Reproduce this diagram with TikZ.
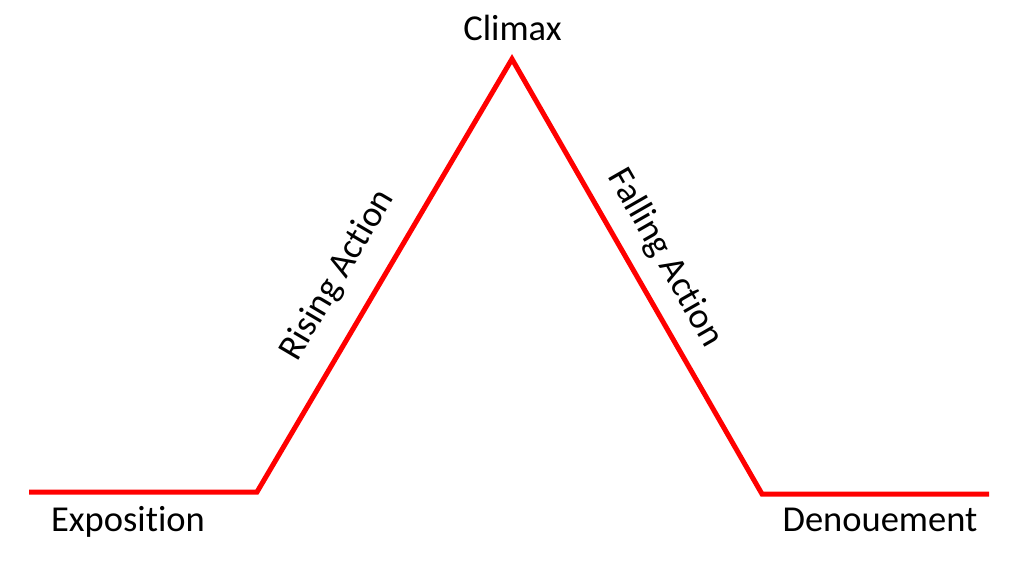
\documentclass[tikz,border=0pt]{standalone}
\usepackage{fontspec}
\setmainfont[RawFeature=-liga]{Carlito}
\begin{document}
\begin{tikzpicture}[x=0.5pt,y=-0.5pt,
    plot/.style={red,line width=2.5pt,line join=miter},
    lbl/.style={inner sep=0pt,font=\fontsize{18.25}{22}\selectfont}]
  \useasboundingbox (0,0) rectangle (1025,569);
  \coordinate (start)  at (29,492);
  \coordinate (rise)   at (257,492);
  \coordinate (peak)   at (512,59);
  \coordinate (fall)   at (762,494);
  \coordinate (finish) at (989,494);
  \draw[plot] (start) -- (rise) -- (peak) -- (fall) -- (finish);
  \node[lbl,anchor=base] (expo)   at (128,531) {Exposition};
  \node[lbl,anchor=base] (climax) at (512.5,40) {Climax};
  \node[lbl,anchor=base] (denoue) at (880,531) {Denouement};
  \node[lbl,rotate=59.5]  (rising)  at (338,275) {Rising Action};
  \node[lbl,rotate=-60.2] (falling) at (665,258) {Falling Action};
\end{tikzpicture}
\end{document}
